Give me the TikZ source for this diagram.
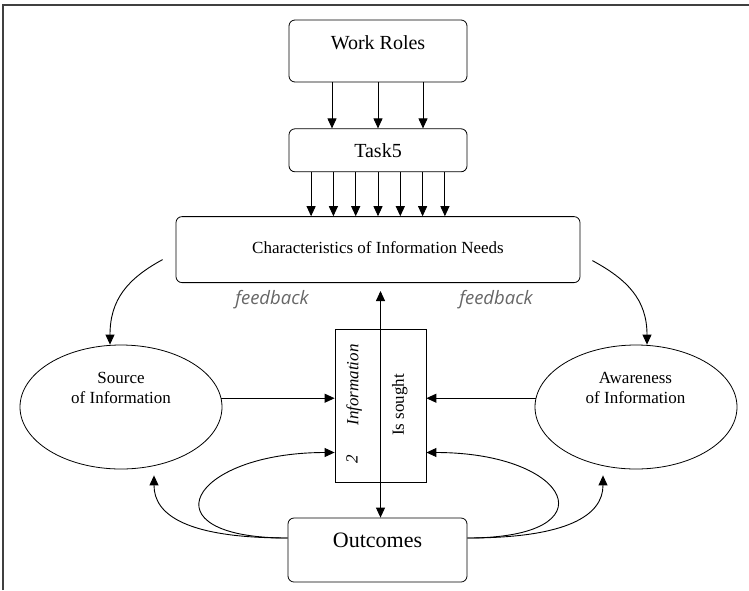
\documentclass[tikz,border=0pt]{standalone}
\usepackage{fontspec}
\setmainfont{Liberation Serif}
\newfontfamily\fbfont{Open Sans}
\usetikzlibrary{arrows.meta}
\usetikzlibrary{positioning,shapes}

\begin{document}
\begin{tikzpicture}[%
        x=1pt, y=-1pt,
        every node/.style={inner sep=0pt},
        line width=0.9pt,
        >={Triangle[length=10pt,width=9pt]},
        box/.style={draw, rounded corners=6pt, line width=0.8pt},
        oval/.style={draw, ellipse, minimum width=202pt, minimum height=124pt, line width=0.8pt},
        big/.style={font=\fontsize{20}{24}\selectfont},
        mid/.style={font=\fontsize{17}{20}\selectfont},
        fb/.style={font=\fbfont\itshape\fontsize{18.5}{22}\selectfont, text=black!60},
        node distance=46pt
      ]
      \useasboundingbox (0,0) rectangle (749,590);
      % frame
      \draw[line width=1.3pt, black!75] (3,590) -- (3,5) -- (749,5);

      \node [box, big] (work) [minimum width=178pt, minimum height=62pt, text height=14pt, text depth=16.2pt] at (378,51) {Work Roles};
      \node [box, big] (task) [minimum width=178pt, minimum height=43pt, below=of work] {Task5};
      \node [box, mid] (char) [minimum width=404pt, minimum height=66pt, text depth=4pt, below=44pt of task] {Characteristics of Information Needs};
      \node [draw, line width=0.8pt] (info) [minimum width=91pt, minimum height=153pt] at (380.5,405.5) {};
      \node [box, font=\fontsize{22}{26}\selectfont] (out) [minimum width=179pt, minimum height=64pt, text height=16pt, text depth=20.4pt] at (377.5,550) {Outcomes};
      \node [oval] (src) at (121,407) {};
      \node [oval] (aw) at (636,407) {};

      % texts
      \node [mid, align=center] (srctxt) at (121,387.5) {Source\\of Information};
      \node [mid, align=center] (awtxt) at (635.5,387.5) {Awareness\\of Information};
      \node [rotate=90, font=\itshape\fontsize{17}{20}\selectfont] (infotxt) at (354.3,385) {Information};
      \node [rotate=90, font=\itshape\fontsize{17}{20}\selectfont] (two) at (352,459.5) {2};
      \node [mid, rotate=90] (sought) at (399.7,405) {Is sought};
      \node [fb] (fbleft) at (272,300) {feedback};
      \node [fb] (fbright) at (496,300) {feedback};

      % arrows
      \foreach \dx in {-46,0,45}
        \draw[->] ([xshift=\dx pt]work.south) -- ([xshift=\dx pt]task.north);
      \foreach \i in {-3,...,3}
        \draw[->] ([xshift=\i*22.3pt]task.south) -- ([xshift=\i*22.3pt]char.north);
      \draw[->] ([xshift=-13pt,yshift=-10pt]char.west) .. controls +(-35,19) and +(0,-45) .. ([xshift=-11pt]src.north);
      \draw[->] ([xshift=12pt,yshift=-11pt]char.east) .. controls +(35,19) and +(0,-45) .. ([xshift=11pt]aw.north);
      \draw[->] (src.5) -- (src.5 -| info.west);
      \draw[->] (aw.175) -- (aw.175 -| info.east);
      \draw[<->, shorten <=8pt] (info |- char.south) -- (info |- out.north);
      \draw[->] ([yshift=12pt]out.west) .. controls +(-145,0) and +(-145,0) .. ([yshift=-47pt]info.west);
      \draw[->] ([yshift=12pt]out.east) .. controls +(145,0) and +(145,0) .. ([yshift=-47pt]info.east);
      \draw[->] ([yshift=12pt]out.west) .. controls +(-100,0) and +(0,40) .. ([xshift=33pt,yshift=-6pt]src.south);
      \draw[->] ([yshift=12pt]out.east) .. controls +(100,0) and +(0,40) .. ([xshift=-33pt,yshift=-6pt]aw.south);
    \end{tikzpicture}
\end{document}
